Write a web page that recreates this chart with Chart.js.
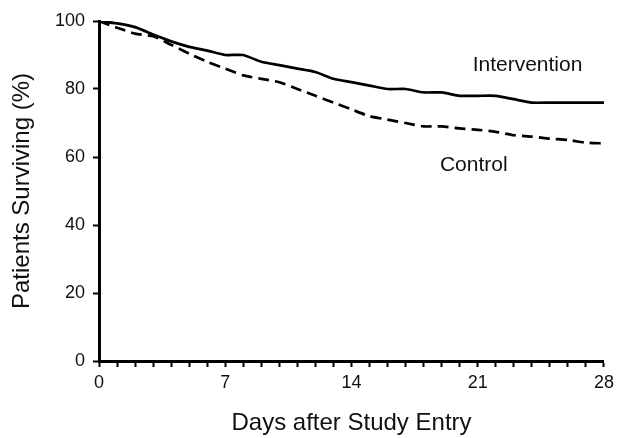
<!DOCTYPE html>
<html>
<head>
<meta charset="utf-8">
<script src="https://cdn.jsdelivr.net/npm/chart.js@4/dist/chart.umd.min.js"></script>
<style>
html,body{margin:0;padding:0;background:#fff;}
#wrap{width:619px;height:438px;position:relative;}
</style>
</head>
<body>
<div id="wrap"><canvas id="c" width="619" height="438"></canvas></div>
<script>
const days = [0,1,2,3,4,5,6,7,8,9,10,11,12,13,14,15,16,17,18,19,20,21,22,23,24,25,26,27,28];
const intervention = [100,99.3,98.2,96,94,92.4,91.3,90,90,88,87,86,85,83,82,81,80,80,79,79,78,78,78,77,76,76,76,76,76];
const control = [100,98,96.3,95.5,93,90.4,88,86,84,83,82,80,78,76,74,72,71,70,69,69,68.4,68,67.4,66.4,66,65.4,65,64.2,64];
const xTickLabels = [0,7,14,21,28];
const yTickLabels = [0,20,40,60,80,100];
const annotations = [
  {text:'Intervention', day:23.76, value:87.0},
  {text:'Control', day:20.78, value:57.6}
];

const FONT = "'Liberation Sans', Arial, Helvetica, sans-serif";

const labelPlugin = {
  id:'labels',
  afterDatasetsDraw(chart){
    const ctx = chart.ctx;
    const xs = chart.scales.x, ys = chart.scales.y;
    ctx.save();
    ctx.fillStyle = '#111';
    ctx.font = '21px ' + FONT;
    ctx.textAlign = 'center';
    ctx.textBaseline = 'middle';
    annotations.forEach(a => {
      ctx.fillText(a.text, xs.getPixelForValue(a.day), ys.getPixelForValue(a.value));
    });
    ctx.restore();
  }
};

new Chart(document.getElementById('c'), {
  type:'line',
  data:{
    datasets:[
      {label:'Intervention', data:days.map((d,i)=>({x:d,y:intervention[i]})), borderColor:'#000', borderWidth:2.7, pointRadius:0, tension:0.2, fill:false},
      {label:'Control', data:days.map((d,i)=>({x:d,y:control[i]})), borderColor:'#000', borderWidth:2.7, borderDash:[11,6], pointRadius:0, tension:0.2, fill:false}
    ]
  },
  options:{
    responsive:false,
    animation:false,
    devicePixelRatio:1,
    layout:{padding:{left:0, top:21, right:9, bottom:0}},
    plugins:{legend:{display:false}, tooltip:{enabled:false}},
    scales:{
      x:{
        type:'linear', min:0, max:28,
        afterFit(s){ s.height = 77; },
        afterBuildTicks(s){ s.ticks = days.map(v=>({value:v})); },
        ticks:{
          autoSkip:false, maxRotation:0, color:'#111', padding:5,
          font:{family:FONT, size:18},
          callback:(v)=> xTickLabels.includes(v) ? String(v) : ''
        },
        grid:{drawOnChartArea:false, drawTicks:true, tickLength:6, tickColor:'#000', tickWidth:2},
        border:{display:true, color:'#000', width:3},
        title:{display:true, text:'Days after Study Entry', color:'#111', font:{family:FONT, size:24}, padding:{top:0,bottom:0}}
      },
      y:{
        min:0, max:100,
        afterFit(s){ s.width = 99; },
        afterBuildTicks(s){ s.ticks = yTickLabels.map(v=>({value:v})); },
        ticks:{color:'#111', padding:8, font:{family:FONT, size:18}},
        grid:{drawOnChartArea:false, drawTicks:true, tickLength:6, tickColor:'#000', tickWidth:2},
        border:{display:true, color:'#000', width:3},
        title:{display:true, text:'Patients Surviving (%)', color:'#111', font:{family:FONT, size:24}, padding:{top:8,bottom:4}}
      }
    }
  },
  plugins:[labelPlugin]
});
</script>
</body>
</html>
